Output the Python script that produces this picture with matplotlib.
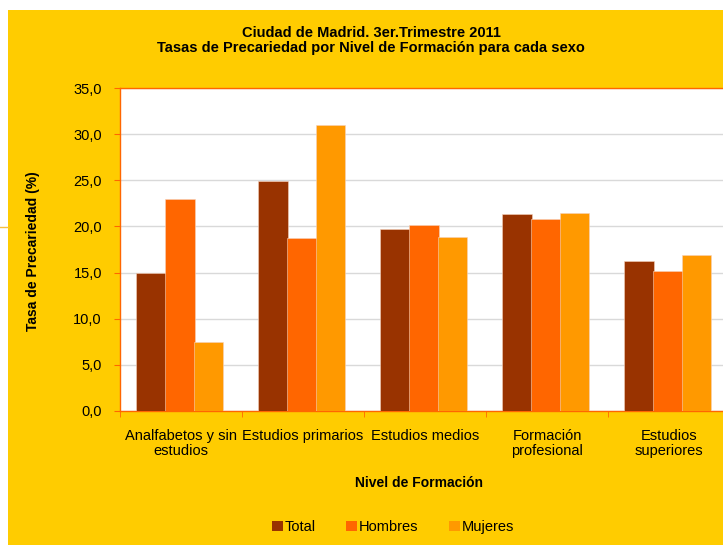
import matplotlib
matplotlib.use('Agg')
from matplotlib import pyplot as plt
from matplotlib.patches import Rectangle, Patch
from matplotlib.lines import Line2D
import numpy as np

# Data.
categories = ['Analfabetos y sin\nestudios', 'Estudios primarios', 'Estudios medios',
              'Formación\nprofesional', 'Estudios\nsuperiores']
total = [14.9, 24.9, 19.7, 21.3, 16.2]
hombres = [23.0, 18.7, 20.2, 20.8, 15.2]
mujeres = [7.5, 31.0, 18.9, 21.5, 16.9]
series_names = ['Total', 'Hombres', 'Mujeres']
colors = ['#993300', '#FF6600', '#FF9900']
yticks = [0, 5, 10, 15, 20, 25, 30, 35]

plt.rcParams['font.family'] = ['Liberation Sans', 'DejaVu Sans']

fig = plt.figure(figsize=(7.23, 5.45), dpi=100)
fig.patch.set_facecolor('white')

# Yellow chart area.
fig.patches.append(Rectangle((8 / 723, 0), 1, 1 - 10 / 545, transform=fig.transFigure,
                             facecolor='#FFCC00', edgecolor='none', zorder=-5))
fig.lines.append(Line2D([0, 8 / 723], [1 - 227 / 545] * 2, transform=fig.transFigure,
                        color='#F5C040', lw=1))

ax = fig.add_axes([120 / 723, 1 - 411 / 545, 610 / 723, 323 / 545])
ax.set_zorder(2)
ax.set_facecolor('white')

x = np.arange(len(categories))
offsets = [-0.245, -0.01, 0.225]
width = 0.245
for vals, off, col, name in zip([total, hombres, mujeres], offsets, colors, series_names):
    ax.bar(x + off, vals, width=width, color=col, edgecolor='#F6D2BC', linewidth=0.4,
           label=name, zorder=3)

ax.set_xlim(-0.5, len(categories) - 0.5)
ax.set_ylim(0, 35)
ax.set_yticks(yticks)
ax.set_yticklabels([f'{v:.1f}'.replace('.', ',') for v in yticks], fontsize=10.5)
ax.yaxis.grid(True, color='#D9D9D9', lw=1, zorder=0)
ax.set_axisbelow(True)

ax.set_xticks(x)
ax.set_xticklabels(categories, fontsize=10.5, linespacing=1.1)
ax.tick_params(axis='x', length=0, pad=13)
ax.set_xticks(np.arange(-0.5, len(categories), 1), minor=True)
ax.tick_params(axis='x', which='minor', length=4, color='#FF6600', direction='out')
ax.tick_params(axis='y', length=4, color='#FF6600', pad=9)

for s in ax.spines.values():
    s.set_color('#FF6600')
    s.set_linewidth(1)

# Titles and labels.
fig.text(371 / 723, 1 - 33 / 545, 'Ciudad de Madrid. 3er.Trimestre 2011', ha='center',
         va='center', fontsize=10.5, fontweight='bold')
fig.text(371 / 723, 1 - 48 / 545, 'Tasas de Precariedad por Nivel de Formación para cada sexo',
         ha='center', va='center', fontsize=10.5, fontweight='bold')
fig.text(33 / 723, 1 - 251 / 545, 'Tasa de Precariedad (%)', rotation=90, ha='center',
         va='center', fontsize=10, fontweight='bold')
fig.text(419 / 723, 1 - 483 / 545, 'Nivel de Formación', ha='center', va='center',
         fontsize=10, fontweight='bold')

handles = [Patch(facecolor=c, edgecolor='none') for c in colors]
fig.legend(handles, series_names, loc='center', bbox_to_anchor=(393 / 723, 1 - 527 / 545),
           ncol=3, frameon=False, fontsize=10.5, handlelength=0.75, handleheight=0.75,
           handletextpad=0.1, columnspacing=2.1)

fig.savefig('out.png', dpi=100, facecolor=fig.get_facecolor())
